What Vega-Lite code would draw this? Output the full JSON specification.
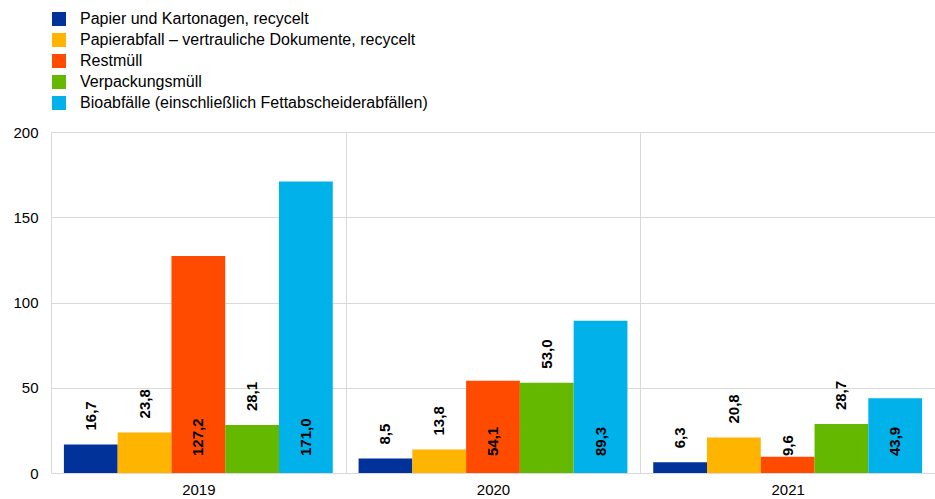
{
  "$schema": "https://vega.github.io/schema/vega-lite/v6.json",
  "width": 884,
  "height": 341,
  "autosize": {"type": "none"},
  "padding": {"left": 51, "top": 132, "right": 0, "bottom": 26},
  "config": {
    "font": "Liberation Sans",
    "view": {"stroke": null},
    "locale": {"number": {"decimal": ",", "thousands": ".", "grouping": [3], "currency": ["", " €"]}}
  },
  "data": {
    "values": [
      {"Jahr": "2019", "Kategorie": "Papier und Kartonagen, recycelt", "Wert": 16.7},
      {"Jahr": "2019", "Kategorie": "Papierabfall – vertrauliche Dokumente, recycelt", "Wert": 23.8},
      {"Jahr": "2019", "Kategorie": "Restmüll", "Wert": 127.2},
      {"Jahr": "2019", "Kategorie": "Verpackungsmüll", "Wert": 28.1},
      {"Jahr": "2019", "Kategorie": "Bioabfälle (einschließlich Fettabscheiderabfällen)", "Wert": 171.0},
      {"Jahr": "2020", "Kategorie": "Papier und Kartonagen, recycelt", "Wert": 8.5},
      {"Jahr": "2020", "Kategorie": "Papierabfall – vertrauliche Dokumente, recycelt", "Wert": 13.8},
      {"Jahr": "2020", "Kategorie": "Restmüll", "Wert": 54.1},
      {"Jahr": "2020", "Kategorie": "Verpackungsmüll", "Wert": 53.0},
      {"Jahr": "2020", "Kategorie": "Bioabfälle (einschließlich Fettabscheiderabfällen)", "Wert": 89.3},
      {"Jahr": "2021", "Kategorie": "Papier und Kartonagen, recycelt", "Wert": 6.3},
      {"Jahr": "2021", "Kategorie": "Papierabfall – vertrauliche Dokumente, recycelt", "Wert": 20.8},
      {"Jahr": "2021", "Kategorie": "Restmüll", "Wert": 9.6},
      {"Jahr": "2021", "Kategorie": "Verpackungsmüll", "Wert": 28.7},
      {"Jahr": "2021", "Kategorie": "Bioabfälle (einschließlich Fettabscheiderabfällen)", "Wert": 43.9}
    ]
  },
  "encoding": {
    "x": {
      "field": "Jahr", "type": "nominal",
      "scale": {"paddingInner": 0, "paddingOuter": 0},
      "axis": {
        "title": null, "labelAngle": 0, "labelFontSize": 15, "labelColor": "#000000",
        "labelPadding": 9, "ticks": false, "domainColor": "#d9d9d9",
        "grid": true, "gridColor": "#d9d9d9", "tickBand": "extent"
      }
    },
    "xOffset": {
      "field": "Kategorie", "type": "nominal",
      "sort": ["Papier und Kartonagen, recycelt", "Papierabfall – vertrauliche Dokumente, recycelt", "Restmüll", "Verpackungsmüll", "Bioabfälle (einschließlich Fettabscheiderabfällen)"],
      "scale": {"paddingInner": 0, "paddingOuter": 0.24}
    }
  },
  "layer": [
    {
      "mark": {"type": "bar"},
      "encoding": {
        "y": {
          "field": "Wert", "type": "quantitative",
          "scale": {"domain": [0, 200], "nice": false},
          "axis": {
            "title": null, "values": [0, 50, 100, 150, 200], "labelFontSize": 15,
            "labelColor": "#000000", "labelPadding": 13, "ticks": false, "domain": false,
            "grid": true, "gridColor": "#d9d9d9"
          }
        },
        "color": {
          "field": "Kategorie", "type": "nominal",
          "scale": {
            "domain": ["Papier und Kartonagen, recycelt", "Papierabfall – vertrauliche Dokumente, recycelt", "Restmüll", "Verpackungsmüll", "Bioabfälle (einschließlich Fettabscheiderabfällen)"],
            "range": ["#003299", "#FFB400", "#FF4B00", "#65B800", "#00B1EA"]
          },
          "legend": {
            "title": null, "orient": "none", "legendX": 0, "legendY": -121,
            "direction": "vertical", "symbolType": "square", "symbolSize": 196,
            "symbolStrokeWidth": 0, "symbolOpacity": 1, "labelFontSize": 16,
            "labelColor": "#000000", "labelOffset": 13, "rowPadding": 5, "labelLimit": 600
          }
        }
      }
    },
    {
      "transform": [{"filter": "datum.Kategorie !== 'Restmüll' && datum.Kategorie !== 'Bioabfälle (einschließlich Fettabscheiderabfällen)'"}],
      "mark": {"type": "text", "angle": 270, "align": "left", "baseline": "middle", "dx": 14, "fontSize": 15, "fontWeight": "bold", "color": "#000000"},
      "encoding": {
        "y": {"field": "Wert", "type": "quantitative"},
        "text": {"field": "Wert", "type": "quantitative", "format": ".1f"}
      }
    },
    {
      "transform": [{"filter": "datum.Kategorie === 'Restmüll' || datum.Kategorie === 'Bioabfälle (einschließlich Fettabscheiderabfällen)'"}],
      "mark": {"type": "text", "angle": 270, "align": "left", "baseline": "middle", "dx": 17, "fontSize": 15, "fontWeight": "bold", "color": "#000000"},
      "encoding": {
        "y": {"datum": 0, "type": "quantitative"},
        "text": {"field": "Wert", "type": "quantitative", "format": ".1f"}
      }
    }
  ]
}
